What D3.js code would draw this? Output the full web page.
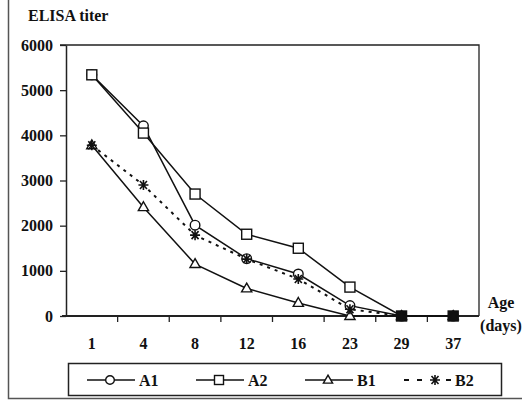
<!DOCTYPE html>
<html>
<head>
<meta charset="utf-8">
<script src="https://cdn.jsdelivr.net/npm/d3@7"></script>
<style>
body { margin: 0; background: #fff; }
text { font-family: "Liberation Serif", "Times New Roman", serif; font-weight: bold; fill: #111; }
</style>
</head>
<body>
<div id="chart"></div>
<script>
// values
var ages = ["1", "4", "8", "12", "16", "23", "29", "37"];
var a1 = [5340, 4210, 2010, 1270, 930, 230, 0, 0];
var a2 = [5340, 4050, 2700, 1810, 1500, 640, 0, 0];
var b1 = [3780, 2410, 1150, 610, 290, 0, 0, 0];
var b2 = [3780, 2900, 1790, 1260, 820, 150, 0, 0];
var yTicks = [0, 1000, 2000, 3000, 4000, 5000, 6000];

var series = [
	{name: "A1", values: a1, marker: "circle", dash: null},
	{name: "A2", values: a2, marker: "square", dash: null},
	{name: "B1", values: b1, marker: "triangle", dash: null},
	{name: "B2", values: b2, marker: "asterisk", dash: "3,5"}
];

var width = 522, height = 401;
var plotLeft = 66, plotRight = 479, plotTop = 45, plotBottom = 316;

var svg = d3.select("#chart").append("svg")
	.attr("width", width).attr("height", height);

// outer frame (only left and bottom edges visible)
svg.append("path")
	.attr("d", "M8.5,0V398.5H522")
	.attr("fill", "none").attr("stroke", "#555").attr("stroke-width", 1.5);

var x = d3.scalePoint().domain(ages).range([plotLeft, plotRight]).padding(0.5);
var y = d3.scaleLinear().domain([0, 6000]).range([plotBottom, plotTop]);
var step = x.step();

// plot box top and right
svg.append("path")
	.attr("d", "M" + (plotLeft - 6) + "," + plotTop + "H" + plotRight + "V" + plotBottom)
	.attr("fill", "none").attr("stroke", "#222").attr("stroke-width", 1.3);

// y axis
var yAxis = svg.append("g")
	.attr("transform", "translate(" + plotLeft + ",0)")
	.call(d3.axisLeft(y).tickValues(yTicks).tickSize(6).tickSizeOuter(0).tickPadding(7).tickFormat(d3.format("d")));
yAxis.select(".domain").attr("stroke", "#222").attr("stroke-width", 1.5);
yAxis.selectAll(".tick line").attr("stroke", "#222").attr("stroke-width", 1.3);
yAxis.selectAll("text").style("font-size", "16px").style("font-family", "Liberation Serif").style("font-weight", "bold").attr("fill", "#111");

// x axis line with ticks at category boundaries
svg.append("line")
	.attr("x1", plotLeft - 4).attr("x2", plotRight).attr("y1", plotBottom).attr("y2", plotBottom)
	.attr("stroke", "#222").attr("stroke-width", 1.8);
svg.selectAll(".xtick")
	.data(ages.slice(1))
	.enter().append("line")
	.attr("x1", function(d) { return x(d) - step / 2; })
	.attr("x2", function(d) { return x(d) - step / 2; })
	.attr("y1", plotBottom).attr("y2", plotBottom + 6)
	.attr("stroke", "#222").attr("stroke-width", 1.3);
svg.selectAll(".xlabel")
	.data(ages)
	.enter().append("text")
	.attr("x", function(d) { return x(d); })
	.attr("y", 349)
	.attr("text-anchor", "middle")
	.style("font-size", "16px")
	.text(function(d) { return d; });

svg.append("text").attr("x", 28).attr("y", 21).style("font-size", "16px").text("ELISA titer");
svg.append("text").attr("x", 501).attr("y", 308).attr("text-anchor", "middle").style("font-size", "16px").text("Age");
svg.append("text").attr("x", 501).attr("y", 331).attr("text-anchor", "middle").style("font-size", "16px").text("(days)");

function drawMarker(g, type, s, fill) {
	fill = fill || "#fff";
	if (type == "circle") {
		g.append("circle").attr("r", s * 0.48).attr("fill", fill).attr("stroke", "#111").attr("stroke-width", 1.4);
	} else if (type == "square") {
		g.append("rect").attr("x", -s / 2).attr("y", -s / 2).attr("width", s).attr("height", s)
			.attr("fill", fill).attr("stroke", "#111").attr("stroke-width", 1.4);
	} else if (type == "triangle") {
		g.append("path").attr("d", d3.symbol().type(d3.symbolTriangle).size(s * s * 0.45)())
			.attr("transform", "translate(0," + (s * 0.05) + ")")
			.attr("fill", fill).attr("stroke", "#111").attr("stroke-width", 1.4);
	} else {
		var r = s / 2;
		g.append("path")
			.attr("d", "M" + (-r) + ",0H" + r + "M" + (-r * 0.7) + "," + (-r * 0.8) + "L" + (r * 0.7) + "," + (r * 0.8) +
				"M" + (-r * 0.7) + "," + (r * 0.8) + "L" + (r * 0.7) + "," + (-r * 0.8) + "M0," + (-r) + "V" + r)
			.attr("stroke", "#111").attr("stroke-width", 1.6);
	}
}

var line = d3.line()
	.x(function(d, i) { return x(ages[i]); })
	.y(function(d) { return y(d); });

series.forEach(function(s) {
	svg.append("path")
		.datum(s.values)
		.attr("d", line)
		.attr("fill", "none")
		.attr("stroke", "#111")
		.attr("stroke-width", s.dash ? 2 : 1.5)
		.attr("stroke-dasharray", s.dash);
});

// where all four series coincide the stacked markers print as a solid block
function allSame(i) {
	return series.every(function(s) { return s.values[i] === series[0].values[i]; });
}

series.forEach(function(s) {
	s.values.forEach(function(v, i) {
		var g = svg.append("g").attr("transform", "translate(" + x(ages[i]) + "," + y(v) + ")");
		drawMarker(g, s.marker, 10, allSame(i) && i > 0 ? "#111" : null);
	});
});

// legend
svg.append("rect")
	.attr("x", 68.5).attr("y", 363.5).attr("width", 433).attr("height", 32)
	.attr("fill", "#fff").attr("stroke", "#222").attr("stroke-width", 1.5);
var legendX = [87, 196, 305, 404];
var ly = 380;
series.forEach(function(s, i) {
	var lx = legendX[i];
	var g = svg.append("g");
	if (s.dash) {
		g.append("line").attr("x1", lx).attr("x2", lx + 5).attr("y1", ly).attr("y2", ly).attr("stroke", "#111").attr("stroke-width", 2);
		g.append("line").attr("x1", lx + 13).attr("x2", lx + 18).attr("y1", ly).attr("y2", ly).attr("stroke", "#111").attr("stroke-width", 2);
		g.append("line").attr("x1", lx + 42).attr("x2", lx + 47).attr("y1", ly).attr("y2", ly).attr("stroke", "#111").attr("stroke-width", 2);
	} else {
		g.append("line").attr("x1", lx).attr("x2", lx + 48).attr("y1", ly).attr("y2", ly).attr("stroke", "#111").attr("stroke-width", 1.5);
	}
	var m = g.append("g").attr("transform", "translate(" + (lx + (s.dash ? 31 : 23)) + "," + ly + ")");
	drawMarker(m, s.marker, s.dash ? 10 : 9);
	g.append("text").attr("x", lx + (s.dash ? 51 : 52)).attr("y", ly + 5.5).style("font-size", "16px").text(s.name);
});
</script>
</body>
</html>
